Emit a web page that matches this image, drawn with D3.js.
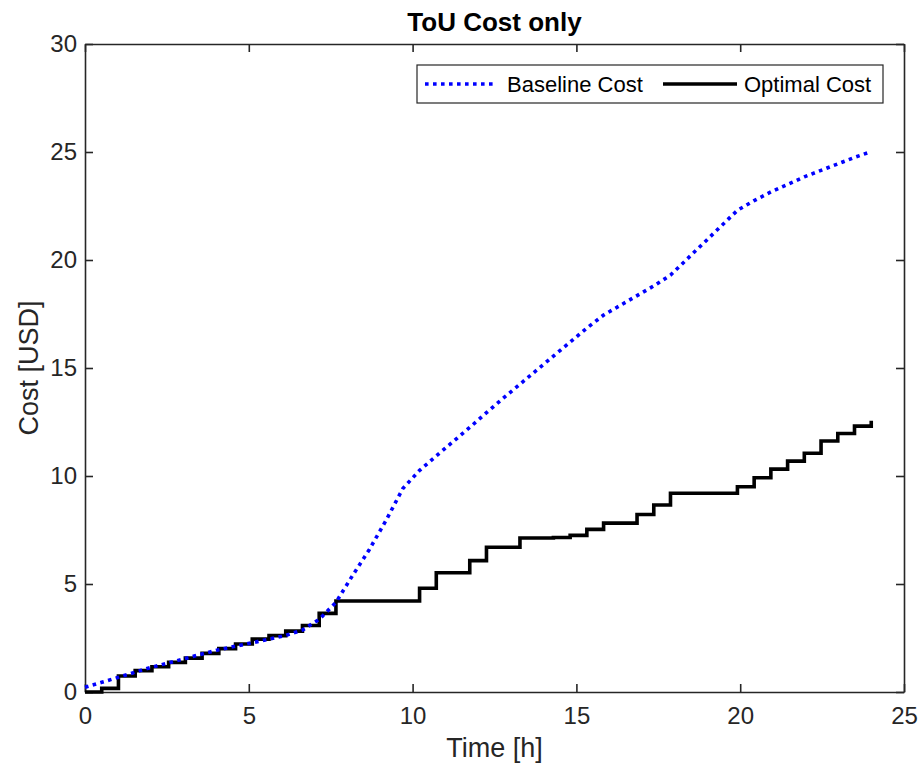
<!DOCTYPE html>
<html lang="en">
<head>
    <meta charset="UTF-8">
    <title>ToU Cost only</title>
    <style>
        body { margin: 0; background: #ffffff; }
        text { font-family: "Liberation Sans", Arial, sans-serif; fill: #262626; }
        .axis path, .axis line { stroke: #262626; stroke-width: 1.6; }
        .axis text { font-size: 24px; fill: #262626; }
    </style>
    <script src="https://cdn.jsdelivr.net/npm/d3@7"></script>
</head>
<body>

<div id="main"></div>

<script>
    // time grid (48 samples from 0 to 24 h)
    const timeH = [
        0.000, 0.511, 1.021, 1.532, 2.043, 2.553, 3.064, 3.574, 4.085, 4.596,
        5.106, 5.617, 6.128, 6.638, 7.149, 7.660, 8.170, 8.681, 9.191, 9.702,
        10.213, 10.723, 11.234, 11.745, 12.255, 12.766, 13.277, 13.787, 14.298, 14.809,
        15.319, 15.830, 16.340, 16.851, 17.362, 17.872, 18.383, 18.894, 19.404, 19.915,
        20.426, 20.936, 21.447, 21.957, 22.468, 22.979, 23.489, 24.000
    ];

    // cumulative cost, baseline (dotted blue)
    const baselineCost = [
        0.22, 0.45, 0.68, 0.92, 1.15, 1.35, 1.55, 1.76, 1.96, 2.12,
        2.28, 2.45, 2.62, 2.87, 3.36, 4.15, 5.40, 6.60, 7.95, 9.42,
        10.26, 10.93, 11.59, 12.25, 12.93, 13.60, 14.25, 14.90, 15.55, 16.20,
        16.85, 17.45, 17.90, 18.35, 18.80, 19.30, 20.05, 20.80, 21.55, 22.30,
        22.75, 23.15, 23.50, 23.85, 24.15, 24.45, 24.75, 25.02
    ];

    // cumulative cost, optimal (black stairs)
    const optimalCost = [
        0.00, 0.17, 0.74, 0.99, 1.17, 1.37, 1.57, 1.79, 2.01, 2.22,
        2.45, 2.61, 2.82, 3.08, 3.64, 4.21, 4.21, 4.21, 4.21, 4.21,
        4.80, 5.52, 5.52, 6.08, 6.70, 6.70, 7.13, 7.13, 7.15, 7.25,
        7.53, 7.82, 7.82, 8.22, 8.66, 9.20, 9.20, 9.20, 9.20, 9.50,
        9.92, 10.32, 10.69, 11.05, 11.62, 11.97, 12.31, 12.56
    ];

    const xTicks = [0, 5, 10, 15, 20, 25];
    const yTicks = [0, 5, 10, 15, 20, 25, 30];
    const seriesNames = ['Baseline Cost', 'Optimal Cost'];

    const W = 919, H = 769;
    const box = {left: 85, right: 904, top: 44, bottom: 692};

    const svg = d3.select('#main')
        .append('svg')
        .attr('width', W)
        .attr('height', H);

    const x = d3.scaleLinear().domain([0, 25]).range([box.left, box.right]);
    const y = d3.scaleLinear().domain([0, 30]).range([box.bottom, box.top]);

    // plot area
    svg.append('rect')
        .attr('x', box.left).attr('y', box.top)
        .attr('width', box.right - box.left).attr('height', box.bottom - box.top)
        .attr('fill', '#ffffff');

    /* axes: ticks pointing inward, box on all sides */
    svg.append('g').attr('class', 'axis')
        .attr('transform', `translate(0,${box.bottom})`)
        .call(d3.axisBottom(x).tickValues(xTicks).tickSizeInner(-8).tickSizeOuter(0).tickPadding(15));

    svg.append('g').attr('class', 'axis')
        .attr('transform', `translate(0,${box.top})`)
        .call(d3.axisTop(x).tickValues(xTicks).tickSizeInner(-8).tickSizeOuter(0).tickFormat(''));

    svg.append('g').attr('class', 'axis')
        .attr('transform', `translate(${box.left},0)`)
        .call(d3.axisLeft(y).tickValues(yTicks).tickSizeInner(-8).tickSizeOuter(0).tickPadding(8));

    svg.append('g').attr('class', 'axis')
        .attr('transform', `translate(${box.right},0)`)
        .call(d3.axisRight(y).tickValues(yTicks).tickSizeInner(-8).tickSizeOuter(0).tickFormat(''));

    svg.selectAll('.axis .domain').attr('stroke', '#262626');

    // series
    const pts = (vals) => timeH.map((t, i) => [t, vals[i]]);

    const baseLine = d3.line()
        .x(d => x(d[0]))
        .y(d => y(d[1]));

    const stairLine = d3.line()
        .curve(d3.curveStepAfter)
        .x(d => x(d[0]))
        .y(d => y(d[1]));

    svg.append('path')
        .attr('d', stairLine(pts(optimalCost)))
        .attr('fill', 'none')
        .attr('stroke', '#000000')
        .attr('stroke-width', 3.6);

    svg.append('path')
        .attr('d', baseLine(pts(baselineCost)))
        .attr('fill', 'none')
        .attr('stroke', '#0000ff')
        .attr('stroke-width', 3.6)
        .attr('stroke-dasharray', '3.6 4.4');

    // title & labels
    svg.append('text')
        .attr('x', (box.left + box.right) / 2)
        .attr('y', 31)
        .attr('text-anchor', 'middle')
        .style('font-size', '26px')
        .style('font-weight', 'bold')
        .style('fill', '#000000')
        .text('ToU Cost only');

    svg.append('text')
        .attr('x', (box.left + box.right) / 2)
        .attr('y', 757)
        .attr('text-anchor', 'middle')
        .style('font-size', '27px')
        .text('Time [h]');

    svg.append('text')
        .attr('transform', `translate(38,${(box.top + box.bottom) / 2}) rotate(-90)`)
        .attr('text-anchor', 'middle')
        .style('font-size', '27px')
        .text('Cost [USD]');

    /**
     * legend
     * */
    const legend = svg.append('g');
    legend.append('rect')
        .attr('x', 417).attr('y', 65)
        .attr('width', 466).attr('height', 38)
        .attr('fill', '#ffffff')
        .attr('stroke', '#262626')
        .attr('stroke-width', 1.2);

    const legItems = [
        {name: seriesNames[0], x0: 425, x1: 497, tx: 507, color: '#0000ff', dash: '3.6 4.4'},
        {name: seriesNames[1], x0: 663, x1: 737, tx: 744, color: '#000000', dash: null}
    ];

    legItems.forEach(it => {
        legend.append('line')
            .attr('x1', it.x0).attr('x2', it.x1)
            .attr('y1', 84).attr('y2', 84)
            .attr('stroke', it.color)
            .attr('stroke-width', 3.6)
            .attr('stroke-dasharray', it.dash);
        legend.append('text')
            .attr('x', it.tx)
            .attr('y', 92)
            .style('font-size', '22px')
            .style('fill', '#000000')
            .text(it.name);
    });
</script>

</body>
</html>
